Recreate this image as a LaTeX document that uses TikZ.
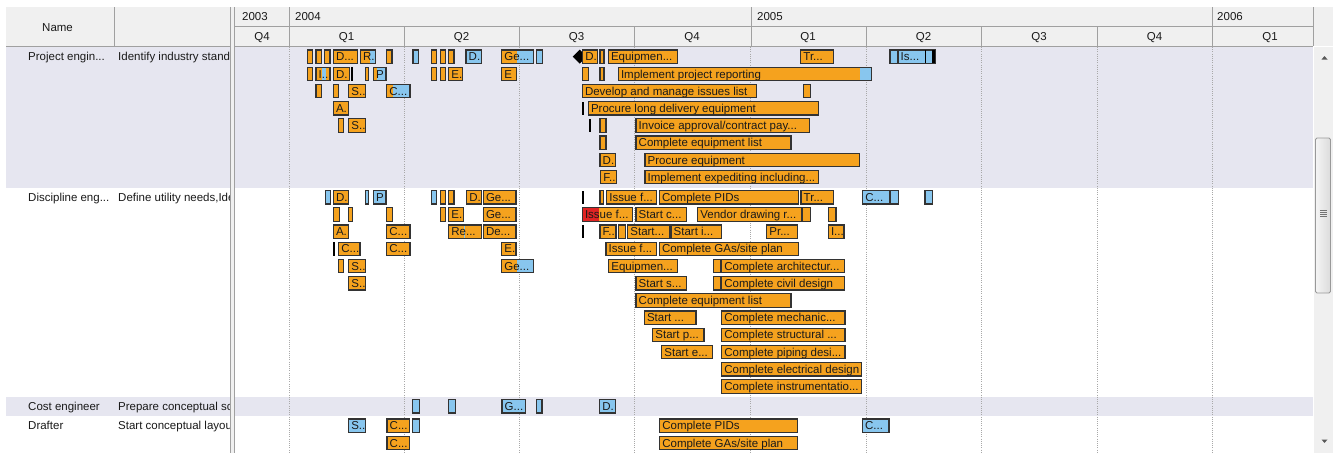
\documentclass[tikz,border=0pt]{standalone}
\usepackage{fontspec}
\setmainfont{Liberation Sans}

\definecolor{band}{HTML}{E6E6F0}
\definecolor{hdr}{HTML}{F0F0F0}
\definecolor{hdrline}{HTML}{A0A0A0}
\definecolor{gridc}{HTML}{A8A8A8}
\definecolor{taskor}{HTML}{F5A21E}
\definecolor{taskbl}{HTML}{88C6EE}
\definecolor{taskrd}{HTML}{E02424}
\definecolor{edgec}{HTML}{333333}
\definecolor{ink}{HTML}{1A1A1A}

\newcounter{tk}
\tikzset{
  txt/.style={inner sep=0pt, text=ink, font=\fontsize{11.5}{13}\selectfont},
  lbl/.style={txt, anchor=base west},
  bedge/.style={draw=edgec, line width=1.2pt},
  hline/.style={draw=hdrline, line width=0.9pt},
  grid/.style={draw=gridc, line width=0.8pt, dash pattern=on 1pt off 1.2pt},
}

% one-colour task bar: left, right, lane centre, fill, label
\newcommand\gtask[5]{%
  \stepcounter{tk}%
  \fill[#4] (#1,#3-6.7) rectangle (#2,#3+6.7);
  \begin{scope}
    \clip (#1,#3-6.7) rectangle (#2,#3+6.7);
    \node[lbl] (tk\arabic{tk}) at (#1+2.5,#3+4.1) {#5};
  \end{scope}
  \draw[bedge] (#1,#3-6.7) rectangle (#2,#3+6.7);
}
% two-colour task bar: left, split, right, lane centre, fill 1, fill 2, label
\newcommand\gtasktwo[7]{%
  \stepcounter{tk}%
  \fill[#5] (#1,#4-6.7) rectangle (#2,#4+6.7);
  \fill[#6] (#2,#4-6.7) rectangle (#3,#4+6.7);
  \begin{scope}
    \clip (#1,#4-6.7) rectangle (#3,#4+6.7);
    \node[lbl] (tk\arabic{tk}) at (#1+2.5,#4+4.1) {#7};
  \end{scope}
  \draw[bedge] (#1,#4-6.7) rectangle (#3,#4+6.7);
}
% three-colour task bar: left, split 1, split 2, right, lane centre, fills, label
\newcommand\gtaskthree[9]{%
  \stepcounter{tk}%
  \fill[#6] (#1,#5-6.7) rectangle (#2,#5+6.7);
  \fill[#7] (#2,#5-6.7) rectangle (#3,#5+6.7);
  \fill[#8] (#3,#5-6.7) rectangle (#4,#5+6.7);
  \begin{scope}
    \clip (#1,#5-6.7) rectangle (#4,#5+6.7);
    \node[lbl] (tk\arabic{tk}) at (#1+2.5,#5+4.1) {#9};
  \end{scope}
  \draw[bedge] (#1,#5-6.7) rectangle (#4,#5+6.7);
}
% zero-length task mark
\newcommand\gmark[2]{\fill[black] (#1,#2-6.7) rectangle (#1+1.8,#2+6.7);}

\begin{document}
\begin{tikzpicture}[x=1pt,y=-1pt]
\useasboundingbox (0,0) rectangle (1333,453);
\fill[white] (0,0) rectangle (1333,453);

% row bands
\fill[band] (6,47) rectangle (1313,187.5);
\fill[band] (6,396.5) rectangle (1313,416);

% quarter grid
\foreach \q in {289,404,519,634,750,866,981,1097,1212}
  \draw[grid] (\q,47) -- (\q,453);

% ---------- Project engineer ----------
\gtask{307.3}{312.7}{56.7}{taskor}{}
\gtask{316}{321.3}{56.7}{taskor}{}
\gtask{324.7}{330}{56.7}{taskor}{}
\gtask{333.3}{357.7}{56.7}{taskor}{D...}
\gtasktwo{360.3}{370}{375.3}{56.7}{taskor}{taskbl}{R.}
\gtask{386.7}{392}{56.7}{taskor}{}
\gtask{413}{418.7}{56.7}{taskbl}{}
\gtask{431.7}{436.7}{56.7}{taskor}{}
\gtask{440.3}{445.3}{56.7}{taskor}{}
\gtask{448.7}{454}{56.7}{taskor}{}
\gtask{466}{481.7}{56.7}{taskbl}{D.}
\gtasktwo{501.7}{517.3}{533.3}{56.7}{taskor}{taskbl}{Ge...}
\gtask{536.7}{542.3}{56.7}{taskbl}{}
\fill[black] (572.7,56.7) -- (579.7,49.7) -- (586.7,56.7) -- (579.7,63.7) -- cycle;
\gtask{582.7}{597.3}{56.7}{taskor}{D.}
\gtask{600}{604}{56.7}{taskor}{}
\gtask{608.3}{677.3}{56.7}{taskor}{Equipmen...}
\gtask{800.7}{833.3}{56.7}{taskor}{Tr...}
\gtask{890}{898}{56.7}{taskbl}{}
\gtask{898}{935}{56.7}{taskbl}{Is...}
\gmark{924.5}{56.7}
\fill[black] (932.3,50) rectangle (935,63.4);

\gtask{307.3}{312.7}{73.9}{taskor}{}
\gtaskthree{316}{322}{325.5}{330}{73.9}{taskor}{taskbl}{taskor}{I..}
\gtask{333.3}{349.3}{73.9}{taskor}{D.}
\gmark{351}{73.9}
\gtask{365.3}{368.7}{73.9}{taskor}{}
\gtasktwo{373.3}{376.7}{386}{73.9}{taskor}{taskbl}{P}
\gtask{431.7}{436.7}{73.9}{taskor}{}
\gtask{440.3}{445.3}{73.9}{taskor}{}
\gtask{448.7}{462.7}{73.9}{taskor}{E.}
\gtask{501.7}{516.7}{73.9}{taskor}{E}
\gtask{582.3}{588.7}{73.9}{taskor}{}
\gtask{600}{604}{73.9}{taskor}{}
\gtasktwo{618.3}{860}{871.7}{73.9}{taskor}{taskbl}{Implement project reporting}

\gtask{316}{321.3}{91.1}{taskor}{}
\gtask{333.3}{338.7}{91.1}{taskor}{}
\gtask{348.7}{365.7}{91.1}{taskor}{S..}
\gtasktwo{386.7}{392.7}{410}{91.1}{taskor}{taskbl}{C...}
\gtask{582.3}{756.7}{91.1}{taskor}{Develop and manage issues list}
\gtask{803.3}{810.7}{91.1}{taskor}{}

\gtask{333.3}{348.7}{108.3}{taskor}{A.}
\gmark{582.3}{108.3}
\gtask{588.3}{818.3}{108.3}{taskor}{Procure long delivery equipment}

\gtask{338.7}{343.3}{125.5}{taskor}{}
\gtask{348.7}{365.7}{125.5}{taskor}{S..}
\gmark{588.7}{125.5}
\gtask{600}{606}{125.5}{taskor}{}
\gtask{636}{809.3}{125.5}{taskor}{Invoice approval/contract pay...}

\gtask{600}{606}{142.7}{taskor}{}
\gtask{636}{791}{142.7}{taskor}{Complete equipment list}

\gtask{600}{615.3}{159.9}{taskor}{D.}
\gtask{645}{859.3}{159.9}{taskor}{Procure equipment}

\gtask{600.7}{616.7}{177.1}{taskor}{F...}
\gtask{645}{818.3}{177.1}{taskor}{Implement expediting including...}

% ---------- Discipline engineer ----------
\gtask{325.3}{330.3}{197.2}{taskbl}{}
\gtask{333.3}{348.7}{197.2}{taskor}{D.}
\gtask{365.3}{368.7}{197.2}{taskbl}{}
\gtask{373.3}{386}{197.2}{taskbl}{P}
\gtask{431.7}{436.7}{197.2}{taskbl}{}
\gtask{440.3}{445.7}{197.2}{taskor}{}
\gtask{448.7}{454}{197.2}{taskor}{}
\gtask{466.7}{481.7}{197.2}{taskor}{D.}
\gtask{483.3}{516}{197.2}{taskor}{Ge...}
\gmark{582.3}{197.2}
\gtask{600}{603.3}{197.2}{taskor}{}
\gtask{606.7}{656.7}{197.2}{taskor}{Issue f...}
\gtask{659.3}{798.3}{197.2}{taskor}{Complete PIDs}
\gtask{801}{833.3}{197.2}{taskor}{Tr...}
\gtask{862.7}{890}{197.2}{taskbl}{C...}
\gtask{890}{898.3}{197.2}{taskbl}{}
\gtask{925}{932.7}{197.2}{taskbl}{}

\gtask{333.3}{339.3}{214.4}{taskor}{}
\gtask{348.7}{352.7}{214.4}{taskor}{}
\gtask{386.7}{392.3}{214.4}{taskor}{}
\gtask{440.3}{445.7}{214.4}{taskor}{}
\gtask{448.7}{463.3}{214.4}{taskor}{E.}
\gtask{483.3}{516}{214.4}{taskor}{Ge...}
\gtasktwo{582.3}{599.3}{632.7}{214.4}{taskrd}{taskor}{Issue f...}
\gtask{636}{686.7}{214.4}{taskor}{Start c...}
\gtask{697.7}{801.7}{214.4}{taskor}{Vendor drawing r...}
\gtask{802.7}{810.7}{214.4}{taskor}{}
\gtask{828.3}{836}{214.4}{taskor}{}

\gtask{333.3}{348.7}{231.6}{taskor}{A.}
\gtask{386.7}{410}{231.6}{taskor}{C...}
\gtaskthree{448.7}{463.5}{464.7}{481.7}{231.6}{taskor}{taskbl}{taskor}{Re...}
\gtask{483.3}{516}{231.6}{taskor}{De...}
\gmark{582.3}{231.6}
\gtask{600}{616}{231.6}{taskor}{F..}
\gtask{618.3}{625.3}{231.6}{taskor}{}
\gtask{627.7}{670}{231.6}{taskor}{Start...}
\gtask{671}{721.7}{231.6}{taskor}{Start i...}
\gtask{766.7}{797.7}{231.6}{taskor}{Pr...}
\gtask{828.3}{844}{231.6}{taskor}{I...}

\gmark{333.3}{248.8}
\gtask{338.7}{360}{248.8}{taskor}{C...}
\gtask{386.7}{410}{248.8}{taskor}{C...}
\gtask{501.7}{516}{248.8}{taskor}{E.}
\gtask{606}{656.7}{248.8}{taskor}{Issue f...}
\gtask{659.3}{798.3}{248.8}{taskor}{Complete GAs/site plan}

\gtask{338.7}{343.3}{266}{taskor}{}
\gtask{348.7}{365.7}{266}{taskor}{S..}
\gtasktwo{501.7}{517.3}{533.3}{266}{taskor}{taskbl}{Ge...}
\gtask{608.7}{677.3}{266}{taskor}{Equipmen...}
\gtask{713.3}{720.7}{266}{taskor}{}
\gtask{721.7}{844.3}{266}{taskor}{Complete architectur...}

\gtask{348.7}{365.7}{283.2}{taskor}{S..}
\gtask{636}{686.7}{283.2}{taskor}{Start s...}
\gtask{713.3}{720.7}{283.2}{taskor}{}
\gtask{721.7}{844.3}{283.2}{taskor}{Complete civil design}

\gtask{636}{791}{300.4}{taskor}{Complete equipment list}

\gtask{644.3}{696}{317.6}{taskor}{Start ...}
\gtask{721.7}{845}{317.6}{taskor}{Complete mechanic...}
\gtask{652.7}{704}{334.8}{taskor}{Start p...}
\gtask{721.7}{845}{334.8}{taskor}{Complete structural ...}
\gtask{661.7}{712.7}{352}{taskor}{Start e...}
\gtask{721.7}{845}{352}{taskor}{Complete piping desi...}
\gtask{721.7}{861.7}{369.2}{taskor}{Complete electrical design}
\gtask{721.7}{861.7}{386.4}{taskor}{Complete instrumentatio...}

% ---------- Cost engineer ----------
\gtask{412.7}{419.6}{406.2}{taskbl}{}
\gtask{448.6}{455.5}{406.2}{taskbl}{}
\gtask{502}{525.7}{406.2}{taskbl}{G...}
\gtask{536.3}{542}{406.2}{taskbl}{}
\gtask{599.6}{615.5}{406.2}{taskbl}{D.}

% ---------- Drafter ----------
\gtask{348.6}{365.7}{425.7}{taskbl}{S..}
\gtask{387}{409.8}{425.7}{taskor}{C...}
\gtask{412.7}{419.6}{425.7}{taskbl}{}
\gtask{659.6}{797.6}{425.7}{taskor}{Complete PIDs}
\gtask{862.4}{889}{425.7}{taskbl}{C...}
\gtask{387}{409.8}{442.9}{taskor}{C...}
\gtask{659.6}{797.6}{442.9}{taskor}{Complete GAs/site plan}

% ---------- header ----------
\fill[hdr] (6,7) rectangle (231,46);
\fill[hdr] (235,7) rectangle (1333,46);
\draw[hline] (6,46) -- (1313,46);
\draw[hline] (235,26) -- (1313,26);
\draw[hline] (114,7) -- (114,46);
\foreach \q in {289,751,1212} \draw[hline] (\q,7) -- (\q,46);
\foreach \q in {404,519,634,866,981,1097} \draw[hline] (\q,26) -- (\q,46);
\draw[hline] (1313,7) -- (1313,46);

\node[lbl] (hname) at (42,31) {Name};
\node[lbl] (y2003) at (242,20.5) {2003};
\node[lbl] (y2004) at (295,20.5) {2004};
\node[lbl] (y2005) at (757,20.5) {2005};
\node[lbl] (y2006) at (1217,20.5) {2006};
\tikzset{qlbl/.style={txt, anchor=base}}
\node[qlbl] (qa) at (262,40.5) {Q4};
\node[qlbl] (qb) at (346.5,40.5) {Q1};
\node[qlbl] (qc) at (461.5,40.5) {Q2};
\node[qlbl] (qd) at (576.5,40.5) {Q3};
\node[qlbl] (qe) at (692,40.5) {Q4};
\node[qlbl] (qf) at (808,40.5) {Q1};
\node[qlbl] (qg) at (923.5,40.5) {Q2};
\node[qlbl] (qh) at (1039,40.5) {Q3};
\node[qlbl] (qi) at (1154.5,40.5) {Q4};
\node[qlbl] (qj) at (1270,40.5) {Q1};

% ---------- resource list ----------
\node[lbl] (r1) at (28,60.8) {Project engin...};
\node[lbl] (r2) at (28,201.3) {Discipline eng...};
\node[lbl] (r3) at (28,410.3) {Cost engineer};
\node[lbl] (r4) at (28,429.8) {Drafter};
\begin{scope}
  \clip (114,47) rectangle (230.5,453);
  \node[lbl] (s1) at (118,60.8) {Identify industry standa};
  \node[lbl] (s2) at (118,201.3) {Define utility needs,Ide};
  \node[lbl] (s3) at (118,410.3) {Prepare conceptual sc};
  \node[lbl] (s4) at (118,429.8) {Start conceptual layou};
\end{scope}

% splitter between list and chart
\fill[hdr] (230.5,7) rectangle (234.5,453);
\draw[hline] (230.5,7) -- (230.5,453);
\draw[hline] (234.5,7) -- (234.5,453);

% ---------- scroll bar ----------
\fill[hdr] (1313.5,47) rectangle (1333,453);
\fill[black!65] (1321.5,59.5) -- (1327.5,59.5) -- (1324.5,56) -- cycle;
\fill[black!65] (1321.5,439.5) -- (1327.5,439.5) -- (1324.5,443) -- cycle;
\shade[left color=white!96!black, right color=black!14, draw=black!40, rounded corners=1.5pt, line width=0.8pt]
  (1315.5,138) rectangle (1330.5,293);
\foreach \g in {210.5,212.5,214.5,216.5}
  \draw[black!55, line width=0.6pt] (1320,\g) -- (1327,\g);
\end{tikzpicture}
\end{document}
